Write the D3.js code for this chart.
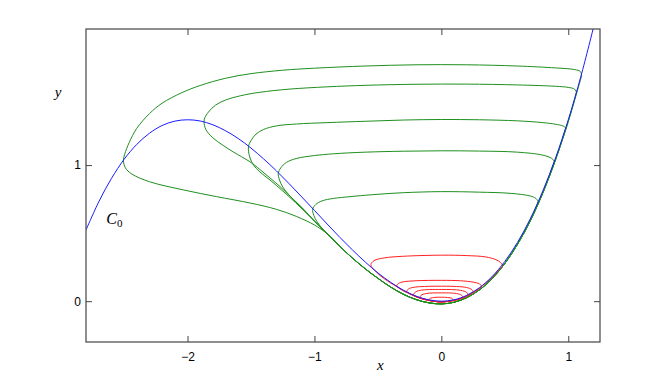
<!DOCTYPE html>
<html>
<head>
<meta charset="utf-8">
<script src="https://cdn.jsdelivr.net/npm/d3@7"></script>
<style>
  body { margin: 0; background: #fff; }
  #chart { width: 664px; height: 391px; }
  .tick text { font-family: "Liberation Sans", Arial, sans-serif; font-size: 12px; fill: #000; }
</style>
</head>
<body>
<div id="chart"></div>
<script>
// curve C0
const c0X = [-2.8,-2.7,-2.6,-2.5,-2.4,-2.3,-2.2,-2.1,-2.0,-1.9,-1.8,-1.7,-1.6,-1.5,-1.4,-1.3,-1.2,-1.1,-1.0,-0.9,-0.8,-0.7,-0.6,-0.5,-0.4,-0.3,-0.2,-0.1,0,0.1,0.2,0.3,0.4,0.5,0.6,0.7,0.8,0.9,1.0,1.1,1.2];
const c0Y = [0.523,0.729,0.901,1.042,1.152,1.234,1.291,1.323,1.333,1.324,1.296,1.252,1.195,1.125,1.045,0.958,0.864,0.766,0.667,0.567,0.469,0.376,0.288,0.208,0.139,0.081,0.037,0.010,0,0.010,0.043,0.099,0.181,0.292,0.432,0.604,0.811,1.053,1.333,1.654,2.016];

// green orbits: shared lower path (left to right)
const greenBottomX = [-1.0,-0.9,-0.8,-0.7,-0.6,-0.5,-0.4,-0.3,-0.2,-0.1,0,0.1,0.2,0.3,0.4,0.5,0.6,0.7,0.8,0.9,1.0,1.1];
const greenBottomY = [0.589,0.496,0.403,0.316,0.238,0.168,0.104,0.051,0.012,-0.012,-0.02,-0.008,0.026,0.083,0.166,0.277,0.418,0.59,0.797,1.04,1.32,1.643];

// green orbits: upper part, from right end, over the top, round the left turn, down to the shared path
const green1 = [[1.106,1.658],[1.095,1.688],[1.05,1.702],[0.9,1.714],[0.6,1.728],[0.2,1.737],[-0.2,1.737],[-0.6,1.728],[-1.0,1.712],[-1.25,1.697],[-1.5,1.672],[-1.7,1.638],[-1.9,1.585],[-2.05,1.53],[-2.2,1.455],[-2.3,1.378],[-2.4,1.27],[-2.46,1.165],[-2.495,1.08],[-2.505,1.035],[-2.49,0.98],[-2.44,0.935],[-2.3,0.878],[-2.03,0.817],[-1.77,0.768],[-1.5,0.72],[-1.3,0.675],[-1.14,0.622],[-1.0,0.56],[-0.92,0.51],[-0.85,0.455]];
const green2 = [[1.065,1.535],[1.05,1.558],[1.0,1.571],[0.9,1.579],[0.6,1.589],[0.2,1.595],[-0.2,1.594],[-0.6,1.586],[-0.9,1.575],[-1.2,1.558],[-1.43,1.535],[-1.58,1.51],[-1.7,1.478],[-1.78,1.44],[-1.835,1.39],[-1.865,1.345],[-1.87,1.317],[-1.855,1.26],[-1.8,1.2],[-1.72,1.145],[-1.64,1.097],[-1.508,1.024],[-1.43,0.968],[-1.35,0.905],[-1.27,0.841],[-1.18,0.76],[-1.1,0.69]];
const green3 = [[0.98,1.273],[0.96,1.287],[0.9,1.3],[0.8,1.312],[0.6,1.325],[0.3,1.333],[0,1.335],[-0.3,1.331],[-0.6,1.322],[-0.9,1.312],[-1.14,1.302],[-1.3,1.288],[-1.4,1.262],[-1.46,1.228],[-1.5,1.18],[-1.52,1.134],[-1.51,1.06],[-1.48,1.0],[-1.43,0.95],[-1.35,0.89],[-1.25,0.81],[-1.15,0.725]];
const green4 = [[0.89,1.027],[0.87,1.049],[0.8,1.073],[0.6,1.095],[0.3,1.103],[0,1.105],[-0.3,1.102],[-0.6,1.095],[-0.85,1.083],[-1.0,1.07],[-1.14,1.049],[-1.22,1.02],[-1.265,0.98],[-1.285,0.939],[-1.275,0.89],[-1.25,0.84],[-1.2,0.78],[-1.12,0.705]];
const green5 = [[0.763,0.731],[0.745,0.755],[0.7,0.773],[0.55,0.792],[0.3,0.801],[0,0.805],[-0.3,0.797],[-0.55,0.782],[-0.72,0.768],[-0.85,0.755],[-0.94,0.737],[-0.99,0.71],[-1.014,0.676],[-1.005,0.63],[-0.98,0.585],[-0.94,0.535]];
const greenOrbits = [green1, green2, green3, green4, green5];

// red orbits: shared lower path and upper parts (left end to right end)
const redBottomX = [-0.55,-0.5,-0.45,-0.4,-0.35,-0.3,-0.25,-0.2,-0.15,-0.1,-0.05,0,0.05,0.1,0.15,0.2,0.25,0.3,0.35,0.4,0.45,0.5];
const redBottomY = [0.246,0.203,0.165,0.134,0.106,0.077,0.055,0.033,0.017,0.006,-0.002,-0.005,-0.002,0.006,0.019,0.038,0.063,0.094,0.134,0.176,0.227,0.285];
const red1 = [[-0.545,0.245],[-0.555,0.27],[-0.53,0.298],[-0.45,0.318],[-0.3,0.33],[0,0.338],[0.2,0.335],[0.35,0.325],[0.43,0.305],[0.465,0.285],[0.48,0.262]];
const red2 = [[-0.353,0.108],[-0.345,0.125],[-0.31,0.14],[-0.2,0.15],[0,0.153],[0.15,0.15],[0.25,0.14],[0.3,0.127],[0.316,0.11]];
const red3 = [[-0.274,0.068],[-0.265,0.085],[-0.23,0.1],[-0.1,0.109],[0,0.11],[0.12,0.108],[0.2,0.1],[0.24,0.085],[0.25,0.068]];
const red4 = [[-0.22,0.045],[-0.21,0.063],[-0.17,0.079],[0,0.086],[0.15,0.08],[0.2,0.064],[0.209,0.046]];
const red5 = [[-0.169,0.027],[-0.16,0.043],[-0.12,0.056],[0,0.061],[0.12,0.056],[0.16,0.043],[0.17,0.03]];
const red6 = [[-0.1,0.008],[-0.09,0.02],[-0.05,0.028],[0,0.029],[0.05,0.027],[0.085,0.02],[0.09,0.008]];
const redOrbits = [red1, red2, red3, red4, red5, red6];

const xTicks = [-2, -1, 0, 1];
const yTicks = [0, 1];

const margin = {top: 29, right: 64, bottom: 49, left: 86},
    width = 664 - margin.left - margin.right,
    height = 391 - margin.top - margin.bottom;

const svg = d3.select("#chart")
  .append("svg")
    .attr("width", 664)
    .attr("height", 391)
  .append("g")
    .attr("transform", "translate(" + margin.left + "," + margin.top + ")");

const x = d3.scaleLinear().domain([-2.8, 1.25]).range([0, width]);
const y = d3.scaleLinear().domain([-0.3, 2]).range([height, 0]);

svg.append("clipPath").attr("id", "clip")
  .append("rect").attr("width", width).attr("height", height);

const line = d3.line()
  .x(d => x(d[0]))
  .y(d => y(d[1]))
  .curve(d3.curveCatmullRom.alpha(0.5));

const plot = svg.append("g").attr("clip-path", "url(#clip)");

// green: upper part then the shared path from the join point to the right end
greenOrbits.forEach(pts => {
  const xJoin = pts[pts.length - 1][0];
  const xEnd = pts[0][0];
  const bottom = greenBottomX.map((v, i) => [v, greenBottomY[i]])
    .filter(d => d[0] > xJoin + 0.03 && d[0] < xEnd - 0.02);
  const path = pts.concat(bottom, [pts[0]]);
  plot.append("path")
    .attr("d", line(path))
    .attr("fill", "none")
    .attr("stroke", "#1f8f1f")
    .attr("stroke-width", 1);
});

// red: upper arc left to right, then back along the lower path
redOrbits.forEach(pts => {
  const xl = pts[0][0], xr = pts[pts.length - 1][0];
  const bottom = redBottomX.map((v, i) => [v, redBottomY[i]])
    .filter(d => d[0] > xl + 0.02 && d[0] < xr - 0.02)
    .reverse();
  const path = pts.concat(bottom, [pts[0]]);
  plot.append("path")
    .attr("d", line(path))
    .attr("fill", "none")
    .attr("stroke", "#ff2020")
    .attr("stroke-width", 1);
});

plot.append("path")
  .attr("d", line(c0X.map((v, i) => [v, c0Y[i]])))
  .attr("fill", "none")
  .attr("stroke", "#1a1aff")
  .attr("stroke-width", 1);

// axes, MATLAB style ticks pointing in
const fmt = d3.format("d");
svg.append("g")
  .attr("transform", "translate(0," + height + ")")
  .call(d3.axisBottom(x).tickValues(xTicks).tickFormat(fmt).tickSizeInner(-6).tickSizeOuter(0).tickPadding(10));
svg.append("g")
  .call(d3.axisTop(x).tickValues(xTicks).tickSizeInner(-6).tickSizeOuter(0).tickFormat(""));
svg.append("g")
  .call(d3.axisLeft(y).tickValues(yTicks).tickFormat(fmt).tickSizeInner(-6).tickSizeOuter(0).tickPadding(5));
svg.append("g")
  .attr("transform", "translate(" + width + ",0)")
  .call(d3.axisRight(y).tickValues(yTicks).tickSizeInner(-6).tickSizeOuter(0).tickFormat(""));

svg.selectAll(".domain").remove();
svg.selectAll(".tick line").attr("stroke", "#444");
svg.append("rect")
  .attr("width", width)
  .attr("height", height)
  .attr("fill", "none")
  .attr("stroke", "#444")
  .attr("stroke-width", 1.2);

// labels
svg.append("text")
  .attr("x", x(-0.48))
  .attr("y", height + 28)
  .style("font-family", "'Liberation Serif', 'Times New Roman', serif")
  .style("font-style", "italic")
  .style("font-size", "15px")
  .style("text-anchor", "middle")
  .text("x");
svg.append("text")
  .attr("x", -28)
  .attr("y", y(1.5))
  .style("font-family", "'Liberation Serif', 'Times New Roman', serif")
  .style("font-style", "italic")
  .style("font-size", "15px")
  .style("text-anchor", "middle")
  .text("y");

const c0Label = svg.append("text")
  .attr("x", x(-2.64))
  .attr("y", y(0.565))
  .style("font-family", "'Liberation Serif', 'Times New Roman', serif")
  .style("font-size", "16px");
c0Label.append("tspan").style("font-style", "italic").text("C");
c0Label.append("tspan").attr("dy", 3).style("font-size", "11px").text("0");
</script>
</body>
</html>
